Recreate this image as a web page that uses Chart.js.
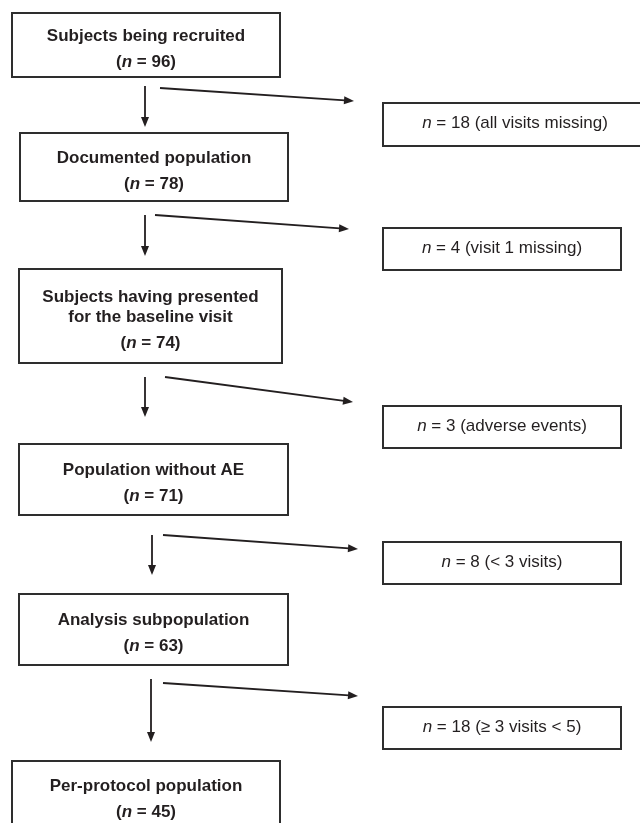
<!DOCTYPE html>
<html>
<head>
<meta charset="utf-8">
<script src="https://cdn.jsdelivr.net/npm/chart.js@4.4.0/dist/chart.umd.min.js"></script>
<style>
  html, body { margin: 0; padding: 0; background: #fff; }
  #wrap { width: 640px; height: 823px; }
</style>
</head>
<body>
<div id="wrap"><canvas id="flowChart" width="640" height="823"></canvas></div>
<script>
// Subjects flow - counts per stage and exclusions between stages
const stageTitles = [
    ['Subjects being recruited'],
    ['Documented population'],
    ['Subjects having presented', 'for the baseline visit'],
    ['Population without AE'],
    ['Analysis subpopulation'],
    ['Per-protocol population']
];
const stageCounts = [96, 78, 74, 71, 63, 45];
const excludedCounts = [18, 4, 3, 8, 18];
const excludedReasons = ['all visits missing', 'visit 1 missing', 'adverse events', '< 3 visits', '\u2265 3 visits < 5'];

// Layout in page units: x 0-640 left to right, y 0-823 top to bottom
const stageBoxes = [
    [12, 280, 13, 77],
    [20, 288, 133, 201],
    [19, 282, 269, 363],
    [19, 288, 444, 515],
    [19, 288, 594, 665],
    [12, 280, 761, 829]
];
const excludedBoxes = [
    [383, 647, 103, 146],
    [383, 621, 228, 270],
    [383, 621, 406, 448],
    [383, 621, 542, 584],
    [383, 621, 707, 749]
];
const downArrows = [
    [145, 86, 127],
    [145, 215, 256],
    [145, 377, 417],
    [152, 535, 575],
    [151, 679, 742]
];
const sideArrows = [
    [160, 88, 354, 101],
    [155, 215, 349, 229],
    [165, 377, 353, 402],
    [163, 535, 358, 549],
    [163, 683, 358, 696]
];

const inkColor = '#231f20';
const boxColor = '#2e2e2e';
const fontFamily = '"Liberation Sans", Arial, Helvetica, sans-serif';
const headLen = 10;
const headHalf = 4;

// All arrows as line datasets, shortened so the arrowhead sits on the end
function arrowDatasets() {
    const sets = [];
    downArrows.forEach(function(a) {
        sets.push({
            data: [{ x: a[0], y: a[1] }, { x: a[0], y: a[2] - headLen + 1 }],
            showLine: true, borderColor: inkColor, borderWidth: 1.8, pointRadius: 0
        });
    });
    sideArrows.forEach(function(a) {
        const dx = a[2] - a[0], dy = a[3] - a[1];
        const len = Math.sqrt(dx * dx + dy * dy);
        const k = (len - headLen + 1) / len;
        sets.push({
            data: [{ x: a[0], y: a[1] }, { x: a[0] + dx * k, y: a[1] + dy * k }],
            showLine: true, borderColor: inkColor, borderWidth: 1.8, pointRadius: 0
        });
    });
    return sets;
}

// Draw a line of text made of differently styled pieces, centred on cx
function drawRuns(ctx, runs, cx, cy) {
    let total = 0;
    runs.forEach(function(r) {
        ctx.font = r.style + ' 17px ' + fontFamily;
        r.w = ctx.measureText(r.t).width;
        total += r.w;
    });
    let x = cx - total / 2;
    ctx.save();
    ctx.fillStyle = inkColor;
    ctx.textAlign = 'left';
    ctx.textBaseline = 'middle';
    runs.forEach(function(r) {
        ctx.font = r.style + ' 17px ' + fontFamily;
        ctx.fillText(r.t, x, cy);
        x += r.w;
    });
    ctx.restore();
}

function strokeBox(ctx, xs, ys, b) {
    const x0 = xs.getPixelForValue(b[0]), x1 = xs.getPixelForValue(b[1]);
    const y0 = ys.getPixelForValue(b[2]), y1 = ys.getPixelForValue(b[3]);
    ctx.strokeStyle = boxColor;
    ctx.lineWidth = 2;
    ctx.strokeRect(x0, y0, x1 - x0, y1 - y0);
    return { cx: (x0 + x1) / 2, cy: (y0 + y1) / 2 };
}

function drawHead(ctx, xs, ys, x0, y0, x1, y1) {
    const px = xs.getPixelForValue(x1), py = ys.getPixelForValue(y1);
    const ang = Math.atan2(py - ys.getPixelForValue(y0), px - xs.getPixelForValue(x0));
    ctx.save();
    ctx.translate(px, py);
    ctx.rotate(ang);
    ctx.fillStyle = inkColor;
    ctx.beginPath();
    ctx.moveTo(0, 0);
    ctx.lineTo(-headLen, -headHalf);
    ctx.lineTo(-headLen, headHalf);
    ctx.closePath();
    ctx.fill();
    ctx.restore();
}

const flowPlugin = {
    id: 'flowBoxes',
    afterDatasetsDraw: function(chart) {
        const ctx = chart.ctx;
        const xs = chart.scales.x, ys = chart.scales.y;

        stageBoxes.forEach(function(b, i) {
            const c = strokeBox(ctx, xs, ys, b);
            const titles = stageTitles[i];
            const block = (titles.length - 1) * 20 + 26;
            const y = c.cy - block / 2 + 4;
            titles.forEach(function(t, j) {
                drawRuns(ctx, [{ t: t, style: 'bold' }], c.cx, y + j * 20);
            });
            drawRuns(ctx, [
                { t: '(', style: 'bold' },
                { t: 'n', style: 'italic bold' },
                { t: ' = ' + stageCounts[i] + ')', style: 'bold' }
            ], c.cx, y + block);
        });

        excludedBoxes.forEach(function(b, i) {
            const c = strokeBox(ctx, xs, ys, b);
            drawRuns(ctx, [
                { t: 'n', style: 'italic' },
                { t: ' = ' + excludedCounts[i] + ' (' + excludedReasons[i] + ')', style: 'normal' }
            ], c.cx, c.cy - 1);
        });

        downArrows.forEach(function(a) {
            drawHead(ctx, xs, ys, a[0], a[1], a[0], a[2]);
        });
        sideArrows.forEach(function(a) {
            drawHead(ctx, xs, ys, a[0], a[1], a[2], a[3]);
        });
    }
};

document.addEventListener('DOMContentLoaded', function() {
    const canvas = document.getElementById('flowChart');
    canvas.chart = new Chart(canvas.getContext('2d'), {
        type: 'scatter',
        data: { datasets: arrowDatasets() },
        options: {
            responsive: false,
            animation: false,
            layout: { padding: 0 },
            plugins: {
                legend: { display: false },
                tooltip: { enabled: false }
            },
            scales: {
                x: { type: 'linear', min: 0, max: 640, display: false },
                y: { type: 'linear', min: 0, max: 823, reverse: true, display: false }
            }
        },
        plugins: [flowPlugin]
    });
});
</script>
</body>
</html>
